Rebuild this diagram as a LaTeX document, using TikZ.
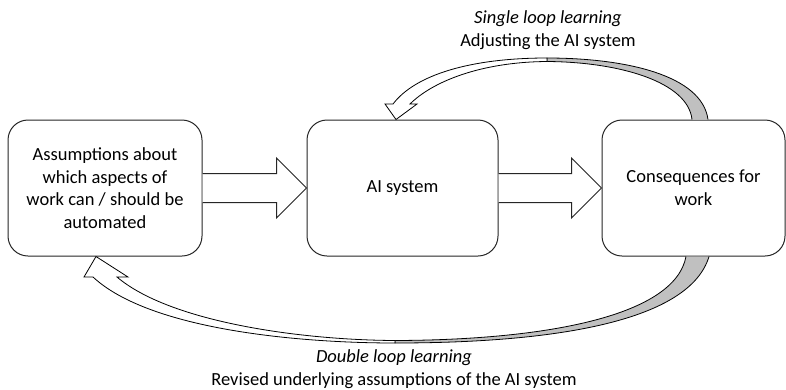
\documentclass[tikz,border=0pt]{standalone}
\usepackage{fontspec}
\setmainfont{Carlito}
\usetikzlibrary{positioning,calc}
\definecolor{bandgray}{HTML}{C0C0C0}
\definecolor{edge}{HTML}{262626}
\newcommand{\txt}{\fontsize{18.5}{22.6}\selectfont}
\tikzset{
  stage/.style     = {rectangle, rounded corners=20pt, draw=edge, fill=white, line width=1pt,
                      minimum height=136pt, align=center, font=\txt},
  fatarrow/.style  = {draw=edge, fill=white, line width=1pt, line join=miter},
  loopband/.style  = {draw=black, fill=white, line width=0.8pt},
  loopshade/.style = {draw=black, fill=bandgray, line width=0.8pt},
  caption/.style   = {align=center, font=\txt},
}

\begin{document}
\begin{tikzpicture}[x=1pt, y=-1pt]
  \useasboundingbox (0,0) rectangle (786,389);

  \node[stage, minimum width=194pt] (assume) at (105,188)
    {Assumptions about\\which aspects of\\work can / should be\\automated};
  \node[stage, minimum width=191pt, right=104pt of assume] (aisys) {AI system};
  \node[stage, minimum width=183pt, right=103pt of aisys] (conseq) {Consequences for\\work};

  % block arrows between the stages
  \foreach \a/\b in {assume/aisys, aisys/conseq} {
    \draw[fatarrow] ($(\a.east)+(0,-14.5)$) -- ($(\b.west)+(-30,-14.5)$) -- ($(\b.west)+(-30,-30)$)
      -- (\b.west) -- ($(\b.west)+(-30,30)$) -- ($(\b.west)+(-30,14.5)$) -- ($(\a.east)+(0,14.5)$);
  }

  % single loop: consequences back to the AI system
  \coordinate (slbaseo) at ($(conseq.north)+(14.5,0)$);
  \coordinate (slbasei) at ($(conseq.north)+(-1.5,0)$);
  \coordinate (sltip)   at ($(aisys.north)+(-6.5,0)$);
  \draw[loopshade] (slbaseo) .. controls (702,75) and (625,58) .. (547,58) -- (547,61.5)
    .. controls (620,62) and (688,82) .. (slbasei);
  \draw[loopband] (547,58) .. controls (470,58) and (415,75) .. (393,104) -- (385,104) -- (sltip)
    -- (417,104) -- (410,104) .. controls (432,82) and (480,62) .. (547,61.5) -- cycle;
  \node[caption] (single) at (548,30) {\textit{Single loop learning}\\Adjusting the AI system};

  % double loop: consequences back to the assumptions
  \coordinate (dlbaseo) at ($(conseq.south)+(15.5,0)$);
  \coordinate (dlbasei) at ($(conseq.south)+(-7.5,0)$);
  \coordinate (dltip)   at ($(assume.south)+(-9,0)$);
  \draw[loopshade] (dlbaseo) .. controls (690,320) and (560,343) .. (395,343) -- (395,340.5)
    .. controls (550,340) and (675,315) .. (dlbasei);
  \draw[loopband] (395,343) .. controls (300,343) and (150,330) .. (93,277) -- (84,277) -- (dltip)
    -- (128,277) -- (117,277) .. controls (170,322) and (300,340) .. (395,340.5) -- cycle;
  \node[caption] (double) at (394,369)
    {\textit{Double loop learning}\\Revised underlying assumptions of the AI system};
\end{tikzpicture}
\end{document}
